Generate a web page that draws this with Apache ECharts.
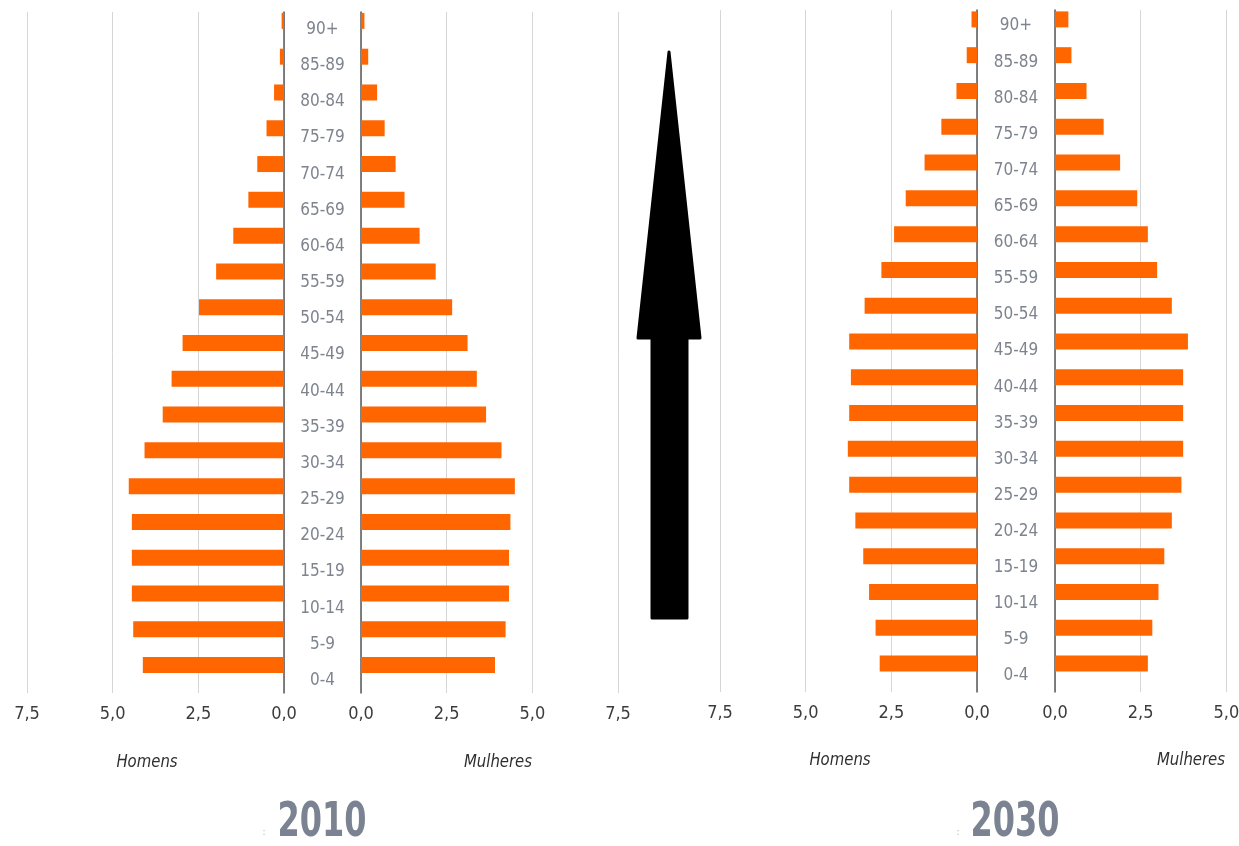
<!DOCTYPE html>
<html>
<head>
<meta charset="utf-8">
<script src="https://cdn.jsdelivr.net/npm/echarts@6/dist/echarts.min.js"></script>
<style>
  html, body { margin: 0; padding: 0; background: #fff; }
  #chart { width: 1239px; height: 846px; }
</style>
</head>
<body>
<div id="chart"></div>
<script>
// faixas etarias, de baixo para cima
var ages = ['0-4', '5-9', '10-14', '15-19', '20-24', '25-29', '30-34', '35-39', '40-44', '45-49',
            '50-54', '55-59', '60-64', '65-69', '70-74', '75-79', '80-84', '85-89', '90+'];

// % da populacao
var homens2010   = [4.12, 4.40, 4.44, 4.44, 4.44, 4.53, 4.07, 3.54, 3.28, 2.96, 2.48, 1.98, 1.48, 1.04, 0.78, 0.51, 0.29, 0.12, 0.07];
var mulheres2010 = [3.91, 4.22, 4.32, 4.32, 4.36, 4.49, 4.10, 3.65, 3.38, 3.11, 2.66, 2.18, 1.71, 1.27, 1.01, 0.69, 0.47, 0.21, 0.10];
var homens2030   = [2.84, 2.96, 3.15, 3.32, 3.55, 3.73, 3.77, 3.73, 3.68, 3.73, 3.28, 2.79, 2.42, 2.08, 1.53, 1.04, 0.60, 0.30, 0.16];
var mulheres2030 = [2.71, 2.84, 3.02, 3.19, 3.41, 3.69, 3.74, 3.74, 3.74, 3.88, 3.41, 2.98, 2.71, 2.40, 1.90, 1.42, 0.92, 0.48, 0.39];

var tickValues = [0, 2.5, 5, 7.5];
var tickLabels = ['0,0', '2,5', '5,0', '7,5'];

var ORANGE = '#ff6600';
var NARROW = "'Liberation Sans Narrow', 'DejaVu Sans Condensed', sans-serif";

var myChart = echarts.init(document.getElementById('chart'));

var grid = [], xAxis = [], yAxis = [], series = [];

function tickFmt(v) {
    var i = tickValues.indexOf(v);
    return i >= 0 ? tickLabels[i] : '';
}

function addGrid(g) {
    g.outerBoundsMode = 'none';
    g.containLabel = false;
    grid.push(g);
    return grid.length - 1;
}

// one pyramid = bars (men, women), gridlines (men, women), centre labels
function pyramid(p) {
    var W = 257;
    var sides = [
        { left: p.menLeft, data: p.men, inverse: true, axisPos: 'right' },
        { left: p.womenLeft, data: p.women, inverse: false, axisPos: 'left' }
    ];
    sides.forEach(function (s) {
        // bars
        var gi = addGrid({ left: s.left, top: p.barTop, width: W, height: p.barH });
        xAxis.push({ gridIndex: gi, type: 'value', min: 0, max: 7.5, inverse: s.inverse, show: false });
        yAxis.push({ gridIndex: gi, type: 'category', data: ages, show: false });
        series.push({
            type: 'bar', xAxisIndex: gi, yAxisIndex: gi, data: s.data,
            barWidth: 16, itemStyle: { color: ORANGE }, silent: true
        });
        // gridlines + value axis
        gi = addGrid({ left: s.left, top: p.lineTop, width: W, height: p.lineH });
        xAxis.push({
            gridIndex: gi, type: 'value', min: 0, max: 7.5, interval: 2.5, inverse: s.inverse,
            axisLine: { show: false }, axisTick: { show: false },
            splitLine: { show: true, lineStyle: { color: '#d6d6d6', width: 1 } },
            axisLabel: { formatter: tickFmt, color: '#3c3c3c', fontSize: 18, fontFamily: NARROW, margin: 12,
                         showMaxLabel: true, showMinLabel: true, hideOverlap: false }
        });
        yAxis.push({
            gridIndex: gi, type: 'value', min: 0, max: 1, position: s.axisPos,
            axisLine: { show: true, onZero: false, lineStyle: { color: '#595959', width: 1.5 } },
            axisTick: { show: false }, axisLabel: { show: false }, splitLine: { show: false }
        });
    });
    // centre age labels
    var gap = p.womenLeft - (p.menLeft + W);
    var gi = addGrid({ left: p.menLeft + W, top: p.labTop, width: gap, height: p.labH });
    xAxis.push({ gridIndex: gi, type: 'value', show: false });
    yAxis.push({
        gridIndex: gi, type: 'category', data: ages,
        axisLine: { show: false }, axisTick: { show: false }, splitLine: { show: false },
        axisLabel: { inside: true, margin: gap / 2, align: 'center', color: '#7d848e', fontSize: 17, fontFamily: NARROW }
    });
}

pyramid({ menLeft: 27, womenLeft: 361, men: homens2010, women: mulheres2010,
          barTop: 3, barH: 680, lineTop: 12, lineH: 681, labTop: 11.5, labH: 687 });
pyramid({ menLeft: 720, womenLeft: 1055, men: homens2030, women: mulheres2030,
          barTop: 1.5, barH: 680, lineTop: 10, lineH: 682, labTop: 8, labH: 686 });

function label(text, x, y, style, sx) {
    return {
        type: 'text', x: x, y: y, scaleX: sx || 1, silent: true,
        style: Object.assign({ text: text, align: 'center', verticalAlign: 'middle', fontFamily: NARROW }, style)
    };
}

var option = {
    animation: false,
    backgroundColor: '#ffffff',
    grid: grid,
    xAxis: xAxis,
    yAxis: yAxis,
    series: series,
    graphic: [
        // seta
        {
            type: 'polygon', silent: true,
            shape: { points: [[669, 52], [700, 338], [687, 338], [687, 618], [652, 618], [652, 338], [638, 338]] },
            style: { fill: '#000', stroke: '#000', lineWidth: 3, lineJoin: 'round' }
        },
        label('Homens', 147, 762, { fill: '#2f2f2f', fontSize: 18, fontStyle: 'italic' }, 0.92),
        label('Mulheres', 498, 762, { fill: '#2f2f2f', fontSize: 18, fontStyle: 'italic' }, 0.92),
        label('Homens', 840, 760, { fill: '#2f2f2f', fontSize: 18, fontStyle: 'italic' }, 0.92),
        label('Mulheres', 1191, 760, { fill: '#2f2f2f', fontSize: 18, fontStyle: 'italic' }, 0.92),
        label('2010', 322, 824, { fill: '#7b8392', fontSize: 48, fontWeight: 'bold' }, 0.74),
        label('2030', 1015, 824, { fill: '#7b8392', fontSize: 48, fontWeight: 'bold' }, 0.74),
        label(':', 264, 832, { fill: '#b0b5bd', fontSize: 10 }),
        label(':', 958, 832, { fill: '#b0b5bd', fontSize: 10 })
    ]
};

myChart.setOption(option);
</script>
</body>
</html>
